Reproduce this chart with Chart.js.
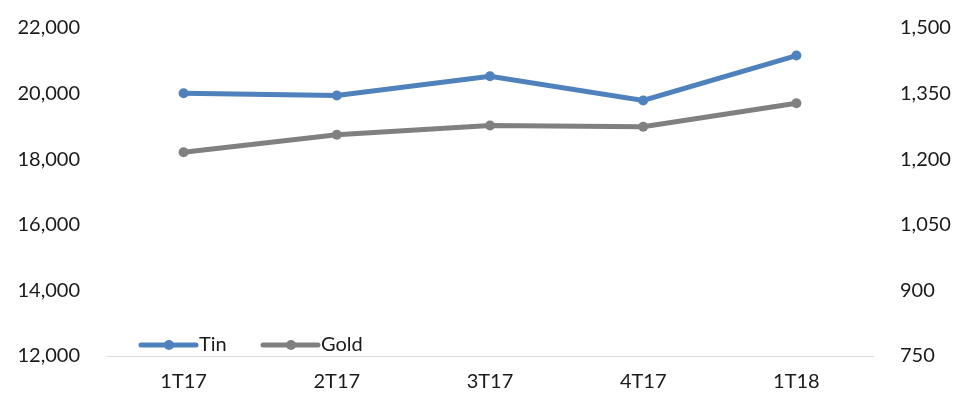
<!DOCTYPE html>
<html>
<head>
<meta charset="utf-8">
<script src="https://cdn.jsdelivr.net/npm/chart.js@4"></script>
<style>
  html, body { margin: 0; padding: 0; background: #fff; }
  #wrap { width: 958px; height: 405px; position: relative; }
</style>
</head>
<body>
<div id="wrap"><canvas id="chart"></canvas></div>
<script>
// data
const quarters = ['1T17', '2T17', '3T17', '4T17', '1T18'];
const tinPrices = [20010, 19940, 20530, 19790, 21160];
const goldPrices = [1216, 1256, 1277, 1274, 1328];
const leftTicks = [12000, 14000, 16000, 18000, 20000, 22000];
const rightTicks = [750, 900, 1050, 1200, 1350, 1500];

const FONT = 'Lato, "Open Sans", sans-serif';
const TEXT = '#1a1a1a';

// legend drawn inside the plot area, lower left, like the original
const insideLegend = {
    id: 'insideLegend',
    afterDraw(chart) {
        const ctx = chart.ctx;
        const area = chart.chartArea;
        const y = area.bottom - 11;
        let x = area.left + 34;
        ctx.save();
        ctx.font = '20px ' + FONT;
        ctx.textBaseline = 'middle';
        chart.data.datasets.forEach(ds => {
            ctx.strokeStyle = ds.borderColor;
            ctx.lineWidth = 5;
            ctx.lineCap = 'round';
            ctx.beginPath();
            ctx.moveTo(x, y);
            ctx.lineTo(x + 55, y);
            ctx.stroke();
            ctx.fillStyle = ds.borderColor;
            ctx.beginPath();
            ctx.arc(x + 28, y, 5, 0, Math.PI * 2);
            ctx.fill();
            ctx.fillStyle = TEXT;
            ctx.textAlign = 'left';
            ctx.fillText(ds.label, x + 58, y);
            x += 122;
        });
        ctx.restore();
    }
};

const fmt = v => Number(v).toLocaleString('en-US');

// fixed axis sizes so the plot area lands where the original has it
const fitY = w => scale => {
    scale.width = w;
    scale.paddingTop = 0;
    scale.paddingBottom = 0;
};

new Chart(document.getElementById('chart'), {
    type: 'line',
    data: {
        labels: quarters,
        datasets: [
            {
                label: 'Tin',
                data: tinPrices,
                yAxisID: 'y',
                borderColor: '#4f81bd',
                backgroundColor: '#4f81bd',
                borderWidth: 5,
                pointRadius: 5,
                pointHoverRadius: 5,
                pointBorderWidth: 0,
                tension: 0
            },
            {
                label: 'Gold',
                data: goldPrices,
                yAxisID: 'y1',
                borderColor: '#808080',
                backgroundColor: '#808080',
                borderWidth: 5,
                pointRadius: 5,
                pointHoverRadius: 5,
                pointBorderWidth: 0,
                tension: 0
            }
        ]
    },
    options: {
        responsive: true,
        maintainAspectRatio: false,
        animation: false,
        layout: { padding: { top: 28, left: 0, right: 0, bottom: 0 } },
        plugins: {
            legend: { display: false },
            tooltip: { enabled: false }
        },
        scales: {
            x: {
                offset: true,
                grid: { display: false, drawTicks: false },
                border: { display: true, color: '#d9d9d9', width: 1 },
                ticks: { color: TEXT, font: { family: FONT, size: 20 }, padding: 14 },
                afterFit(scale) { scale.height = 49; }
            },
            y: {
                position: 'left',
                min: leftTicks[0],
                max: leftTicks[leftTicks.length - 1],
                afterBuildTicks(scale) { scale.ticks = leftTicks.map(v => ({ value: v })); },
                grid: { display: false, drawTicks: false },
                border: { display: false },
                ticks: { color: TEXT, font: { family: FONT, size: 20 }, padding: 27, callback: fmt },
                afterFit: fitY(107)
            },
            y1: {
                position: 'right',
                min: rightTicks[0],
                max: rightTicks[rightTicks.length - 1],
                afterBuildTicks(scale) { scale.ticks = rightTicks.map(v => ({ value: v })); },
                grid: { display: false, drawTicks: false },
                border: { display: false },
                ticks: { color: TEXT, font: { family: FONT, size: 20 }, padding: 27, callback: fmt },
                afterFit: fitY(85)
            }
        }
    },
    plugins: [insideLegend]
});
</script>
</body>
</html>
